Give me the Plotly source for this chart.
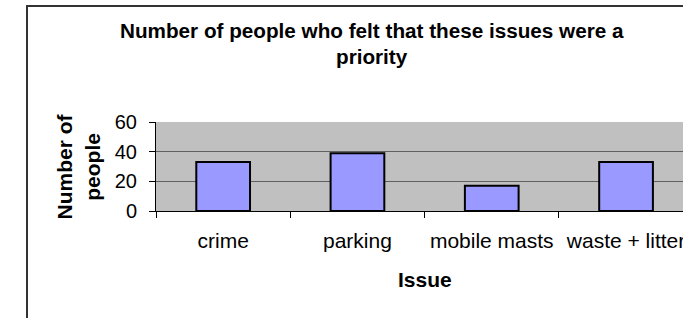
import plotly.graph_objects as go

categories = ["crime", "parking", "mobile masts", "waste + litter"]
values = [33, 39, 17, 33]
y_ticks = [0, 20, 40, 60]

W, H = 683, 318
L, R, T, B = 156, 0, 122, 107
PW, PH = W - L - R, H - T - B
CAT_W = 134.3

def px_x(sx):
    return (sx - L) / PW

def px_y(sy):
    return (H - B - sy) / PH

FONT = "Liberation Sans, Arial, sans-serif"

fig = go.Figure(go.Bar(
    x=categories, y=values,
    marker=dict(color="#9999FF", line=dict(color="#000000", width=2)),
    hoverinfo="skip",
))

frame_line = dict(color="#333333", width=2)

fig.update_layout(
    width=W, height=H,
    margin=dict(l=L, r=R, t=T, b=B, pad=0),
    paper_bgcolor="white",
    plot_bgcolor="#C0C0C0",
    showlegend=False,
    bargap=0.6,
    font=dict(family=FONT, size=20, color="black"),
    xaxis=dict(
        type="category",
        range=[-0.5, -0.5 + PW / CAT_W],
        tickson="boundaries",
        ticks="outside", ticklen=6, tickcolor="#000000", tickwidth=1,
        showline=True, linecolor="#000000", linewidth=1,
        showgrid=False, zeroline=False,
        automargin=False,
        ticklabelstandoff=11,
        tickfont=dict(family=FONT, size=21, color="black"),
        fixedrange=True,
    ),
    yaxis=dict(
        range=[0, 60],
        tickvals=y_ticks,
        ticks="outside", ticklen=6, tickcolor="#000000", tickwidth=1,
        showline=True, linecolor="#000000", linewidth=1,
        showgrid=True, gridcolor="#606060", gridwidth=1,
        zeroline=False,
        automargin=False,
        ticklabelstandoff=8,
        tickfont=dict(family=FONT, size=20, color="black"),
        fixedrange=True,
    ),
    shapes=[
        dict(type="rect", xref="paper", yref="paper",
             x0=px_x(27), x1=px_x(700), y0=px_y(330), y1=px_y(6),
             line=frame_line, fillcolor="rgba(0,0,0,0)", layer="above"),
    ],
    annotations=[
        dict(text="<b>Number of people who felt that these issues were a</b>",
             xref="paper", yref="paper", x=px_x(372), y=px_y(30.7),
             xanchor="center", yanchor="middle", showarrow=False,
             font=dict(family=FONT, size=20.7, color="black")),
        dict(text="<b>priority</b>",
             xref="paper", yref="paper", x=px_x(372), y=px_y(56),
             xanchor="center", yanchor="middle", showarrow=False,
             font=dict(family=FONT, size=20.7, color="black")),
        dict(text="<b>Issue</b>",
             xref="paper", yref="paper", x=px_x(424.5), y=px_y(279.7),
             xanchor="center", yanchor="middle", showarrow=False,
             font=dict(family=FONT, size=21, color="black")),
        dict(text="<b>Number of<br>people</b>",
             xref="paper", yref="paper", x=px_x(78.4), y=px_y(166),
             xanchor="center", yanchor="middle", showarrow=False,
             textangle=-90,
             font=dict(family=FONT, size=21, color="black")),
    ],
)

fig.write_html(
    "out.html",
    config={"displayModeBar": False},
    post_script="document.body.style.margin='0';",
)
